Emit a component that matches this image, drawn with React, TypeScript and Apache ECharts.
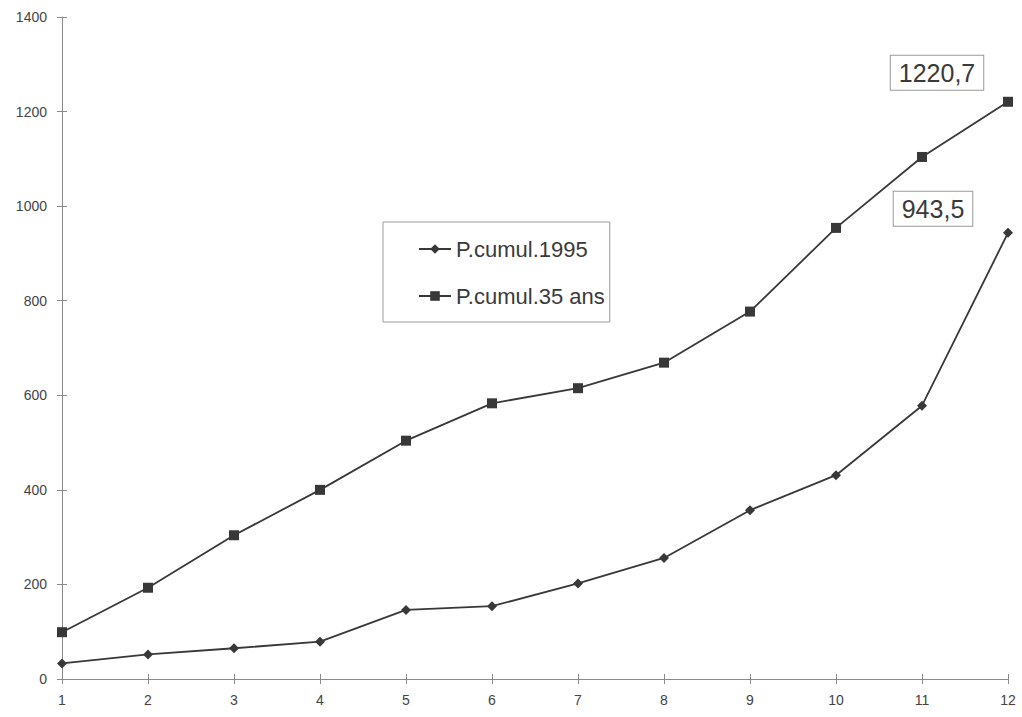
import React, { useEffect, useRef } from "react";
import * as echarts from "echarts";

const categories = ["1", "2", "3", "4", "5", "6", "7", "8", "9", "10", "11", "12"];
const pCumul1995 = [33, 52, 65, 79, 146, 154, 202, 256, 357, 431, 578, 943.5];
const pCumul35 = [99, 193, 304, 400, 504, 583, 615, 669, 777, 954, 1104, 1220.7];
const seriesNames = ["P.cumul.1995", "P.cumul.35 ans"];
const lastLabels = ["943,5", "1220,7"];
const yTicks = { min: 0, max: 1400, interval: 200 };

const FONT = "'Liberation Sans', Arial, sans-serif";
const LINE = "#383838";
const AXIS = "#8a8a8a";

function withLastLabel(values: number[], text: string, offset: number[]) {
  return values.map((v, i) =>
    i === values.length - 1
      ? {
          value: v,
          label: {
            show: true,
            position: "top",
            formatter: text,
            offset,
            fontFamily: FONT,
            fontSize: 25,
            color: "#3a3a3a",
            borderColor: "#999",
            borderWidth: 1,
            padding: [5, 8, 4, 8],
            backgroundColor: "#fff",
          },
        }
      : v
  );
}

export default function App() {
  const ref = useRef<HTMLDivElement>(null);
  useEffect(() => {
    if (!ref.current) return;
    const chart = echarts.init(ref.current, undefined, { renderer: "svg" });
    const axisLabel = { fontFamily: FONT, fontSize: 14, color: "#444" };
    chart.setOption({
      animation: false,
      backgroundColor: "#fff",
      grid: { left: 62, right: 14, top: 17, bottom: 38, containLabel: false },
      legend: {
        orient: "vertical",
        left: 383,
        top: 222,
        data: seriesNames,
        itemWidth: 32,
        itemHeight: 12,
        itemGap: 21,
        padding: [14, 5, 13, 35],
        borderColor: "#999",
        borderWidth: 1,
        textStyle: { fontFamily: FONT, fontSize: 22, color: "#3a3a3a", lineHeight: 26 },
      },
      xAxis: [
        {
          type: "category",
          data: categories,
          boundaryGap: false,
          axisLine: { lineStyle: { color: AXIS, width: 1 } },
          axisTick: { show: true, length: 5, lineStyle: { color: AXIS } },
          axisLabel: { ...axisLabel, margin: 14 },
          splitLine: { show: false },
        },
        {
          type: "category",
          data: categories,
          boundaryGap: false,
          position: "bottom",
          axisLine: { show: false },
          axisTick: { show: true, inside: true, length: 5, lineStyle: { color: AXIS } },
          axisLabel: { show: false },
          splitLine: { show: false },
        },
      ],
      yAxis: [
        {
          type: "value",
          min: yTicks.min,
          max: yTicks.max,
          interval: yTicks.interval,
          axisLine: { show: true, lineStyle: { color: AXIS, width: 1 } },
          axisTick: { show: true, length: 5, lineStyle: { color: AXIS } },
          axisLabel: { ...axisLabel, margin: 15, formatter: (v: number) => String(v) },
          splitLine: { show: false },
        },
        {
          type: "value",
          min: yTicks.min,
          max: yTicks.max,
          interval: yTicks.interval,
          position: "left",
          axisLine: { show: false },
          axisTick: { show: true, inside: true, length: 5, lineStyle: { color: AXIS } },
          axisLabel: { show: false },
          splitLine: { show: false },
        },
      ],
      series: [
        {
          name: seriesNames[0],
          type: "line",
          data: withLastLabel(pCumul1995, lastLabels[0], [-75, 3]),
          symbol: "diamond",
          symbolSize: 10,
          lineStyle: { color: LINE, width: 1.8 },
          itemStyle: { color: LINE },
        },
        {
          name: seriesNames[1],
          type: "line",
          data: withLastLabel(pCumul35, lastLabels[1], [-71, -2]),
          symbol: "rect",
          symbolSize: 10,
          lineStyle: { color: LINE, width: 1.8 },
          itemStyle: { color: LINE },
        },
      ],
    });
    return () => chart.dispose();
  }, []);
  return (
    <div
      ref={ref}
      style={{ position: "absolute", left: 0, top: 0, width: 1022, height: 717 }}
    />
  );
}
